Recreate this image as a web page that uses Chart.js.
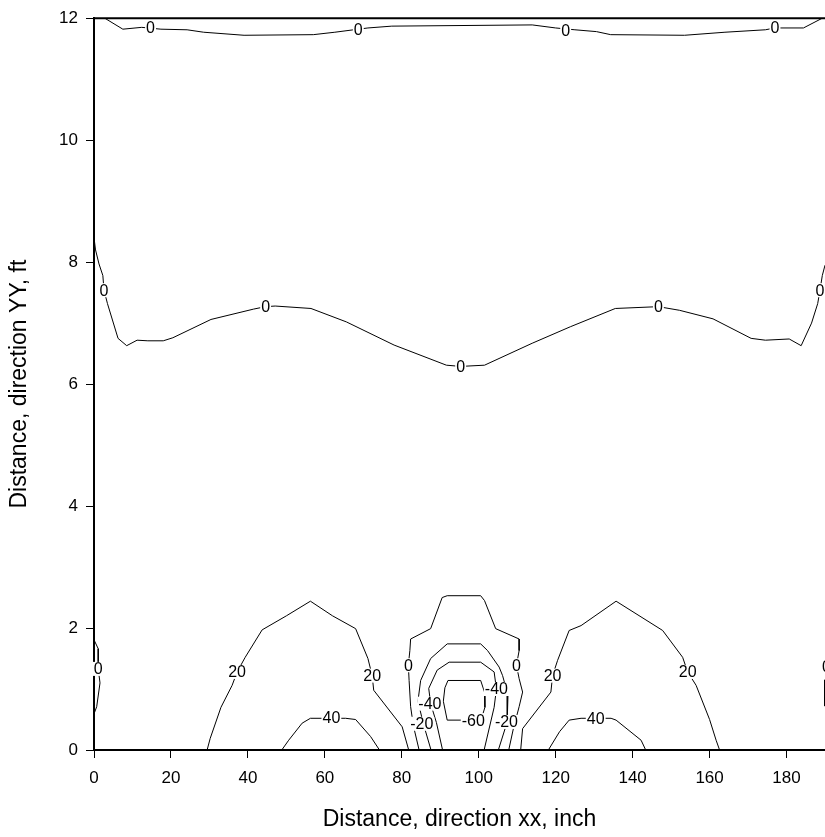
<!DOCTYPE html>
<html>
<head>
<meta charset="utf-8">
<script src="https://cdn.jsdelivr.net/npm/chart.js@4/dist/chart.umd.min.js"></script>
<style>
  html, body { margin: 0; padding: 0; background: #fff; }
</style>
</head>
<body>
<canvas id="contourChart" width="825" height="837"></canvas>
<script>
// Axis ticks
const xTickValues = [0, 20, 40, 60, 80, 100, 120, 140, 160, 180];
const yTickValues = [0, 2, 4, 6, 8, 10, 12];

// Contour lines, [x inch, y ft]
const topZero = [[2.8, 12], [7.5, 11.82], [12.4, 11.85], [17.4, 11.82], [24.2, 11.81], [28.5, 11.77], [39, 11.72],
  [57, 11.73], [62.6, 11.77], [68.7, 11.82], [71.2, 11.84], [77.4, 11.87], [113.9, 11.89], [120, 11.84],
  [125, 11.81], [130.6, 11.78], [134.3, 11.73], [153.5, 11.72], [164, 11.77], [174.5, 11.81], [177, 11.84],
  [184.4, 11.84], [189.3, 12]];
const midZero = [[0, 8.4], [0.4, 8.2], [1.3, 7.97], [2.3, 7.78], [2.6, 7.54], [3.5, 7.32], [6.25, 6.75], [8.5, 6.63],
  [11.2, 6.72], [14, 6.71], [18, 6.71], [20.5, 6.76], [30.4, 7.06], [41.5, 7.23], [44.6, 7.27], [47.1, 7.28],
  [56.4, 7.24], [65.6, 7.02], [78, 6.64], [91.6, 6.31], [95.3, 6.29], [101.5, 6.31], [113.9, 6.67], [123.8, 6.94],
  [135.5, 7.24], [146.7, 7.27], [152.2, 7.21], [160.9, 7.07], [170.8, 6.75], [174.5, 6.72], [180.7, 6.74],
  [183.8, 6.63], [186.5, 7.0], [188.1, 7.32], [188.7, 7.54], [189.3, 7.78], [190, 7.95]];
const leftEdgeZero = [[0, 2.17], [0.05, 1.8], [1.1, 1.66], [1.1, 1.52], [1.1, 1.33], [1.56, 1.1], [0.7, 0.71], [0.05, 0.6], [0, 0.44]];
const rightEdgeZero = [[189.9, 1.15], [189.9, 0.72]];
const leftArch20 = [[29.4, 0], [30.2, 0.19], [33, 0.7], [35.9, 1.06], [37.2, 1.28], [39.3, 1.52], [43.7, 1.97],
  [50, 2.2], [56.25, 2.44], [62, 2.2], [68, 1.99], [71.2, 1.5], [72.3, 1.22], [72.7, 0.98], [80.1, 0.38], [81.8, 0]];
const rightArch20 = [[110.9, 0], [111.4, 0.35], [118.75, 0.95], [119.2, 1.22], [120.5, 1.47], [123.5, 1.96],
  [126.6, 2.04], [135.7, 2.44], [147.8, 1.96], [153, 1.52], [154.3, 1.28], [156.5, 1.06], [160, 0.5], [161.7, 0.16], [162.6, 0]];
const leftArch40 = [[48.8, 0], [50.6, 0.16], [54.1, 0.44], [56.25, 0.52], [65.4, 0.52], [68, 0.5], [71.9, 0.22], [74.2, 0]];
const rightArch40 = [[118.1, 0], [121, 0.3], [123.5, 0.49], [126.6, 0.52], [134.4, 0.52], [135.7, 0.49], [142.2, 0.16], [143.4, 0]];
const centerZero = [[84.5, 0], [83, 0.4], [82.3, 0.71], [81.9, 1.14], [81.7, 1.39], [82.1, 1.63], [82.3, 1.82],
  [87.5, 1.99], [90.5, 2.5], [91.8, 2.53], [100.5, 2.53], [101.5, 2.45], [104.4, 1.99], [110.5, 1.82], [110.5, 1.63],
  [109.8, 1.39], [110.5, 1.17], [111.4, 0.95], [110.5, 0.71], [109, 0.35], [107.8, 0]];
const centerMinus20 = [[87.6, 0], [85.6, 0.43], [84.2, 0.8], [84.9, 1.14], [87.5, 1.5], [91.8, 1.74], [100.5, 1.74],
  [102.3, 1.63], [105.3, 1.36], [106.2, 1.22], [107.6, 0.9], [107.4, 0.46], [105.1, 0]];
const centerMinus40 = [[90.6, 0], [89, 0.45], [87.5, 0.76], [87, 1.01], [89.2, 1.31], [92.3, 1.44], [100.5, 1.44],
  [104, 1.28], [104.6, 1.0], [104, 0.7], [101.4, 0]];
const centerMinus60 = [[91.8, 0.49], [90.8, 0.8], [91.2, 1.02], [92, 1.14], [100.5, 1.14], [101.5, 0.95], [101.6, 0.7], [100.6, 0.49], [91.8, 0.49]];

const contours = [topZero, midZero, leftEdgeZero, rightEdgeZero, leftArch20, rightArch20, leftArch40, rightArch40,
  centerZero, centerMinus20, centerMinus40, centerMinus60];

// Contour labels
const labelX = [14.7, 68.7, 122.6, 177, 2.6, 44.6, 95.3, 146.7, 188.7, 1.1, 37.2, 72.3, 119.2, 154.3, 61.7, 130.4,
  81.7, 109.8, 87.3, 104.6, 85.2, 98.6, 107.2, 190.4];
const labelY = [11.84, 11.82, 11.80, 11.84, 7.54, 7.27, 6.29, 7.27, 7.54, 1.33, 1.28, 1.22, 1.22, 1.28, 0.53, 0.52,
  1.39, 1.39, 0.76, 1.0, 0.43, 0.49, 0.46, 1.36];
const labelText = ["0", "0", "0", "0", "0", "0", "0", "0", "0", "0", "20", "20", "20", "20", "40", "40",
  "0", "0", "-40", "-40", "-20", "-60", "-20", "0"];

const FONT = "'Liberation Sans', Arial, sans-serif";

// draws the contour value labels with a white gap behind them
const contourLabels = {
  id: "contourLabels",
  afterDatasetsDraw(chart) {
    const { ctx, scales } = chart;
    ctx.save();
    ctx.font = "16px " + FONT;
    ctx.textAlign = "center";
    ctx.textBaseline = "middle";
    labelText.forEach((t, i) => {
      const px = scales.x.getPixelForValue(labelX[i]);
      const py = scales.y.getPixelForValue(labelY[i]);
      const w = ctx.measureText(t).width;
      ctx.fillStyle = "#fff";
      ctx.fillRect(px - w / 2 - 1, py - 7, w + 2, 14);
      ctx.fillStyle = "#000";
      ctx.fillText(t, px, py + 1);
    });
    ctx.restore();
  }
};

// frame line along the top of the plot
const topFrame = {
  id: "topFrame",
  afterDraw(chart) {
    const { ctx, chartArea } = chart;
    ctx.save();
    ctx.strokeStyle = "#000";
    ctx.lineWidth = 2;
    ctx.beginPath();
    ctx.moveTo(chartArea.left, chartArea.top);
    ctx.lineTo(chartArea.right, chartArea.top);
    ctx.stroke();
    ctx.restore();
  }
};

new Chart(document.getElementById("contourChart"), {
  type: "scatter",
  data: {
    datasets: contours.map(c => ({
      data: c.map(p => ({ x: p[0], y: p[1] })),
      showLine: true,
      borderColor: "#000",
      borderWidth: 1,
      pointRadius: 0,
      tension: 0,
      fill: false
    }))
  },
  options: {
    responsive: false,
    animation: false,
    layout: { padding: { top: 15, right: 0, left: 0, bottom: 0 } },
    plugins: { legend: { display: false }, tooltip: { enabled: false } },
    scales: {
      x: {
        type: "linear", min: 0, max: 190,
        afterBuildTicks: s => { s.ticks = xTickValues.map(v => ({ value: v })); },
        afterFit: s => { s.height = 87; },
        ticks: { color: "#000", font: { family: FONT, size: 17 }, padding: 10, maxRotation: 0 },
        grid: { drawOnChartArea: false, tickLength: 8, color: "#000" },
        border: { color: "#000", width: 2 },
        title: { display: true, text: "Distance, direction xx, inch", color: "#000", font: { family: FONT, size: 23 }, padding: { top: 6 } }
      },
      y: {
        type: "linear", min: 0, max: 12,
        afterBuildTicks: s => { s.ticks = yTickValues.map(v => ({ value: v })); },
        afterFit: s => { s.width = 94; },
        ticks: { color: "#000", font: { family: FONT, size: 17 }, padding: 8 },
        grid: { drawOnChartArea: false, tickLength: 8, color: "#000" },
        border: { color: "#000", width: 2 },
        title: { display: true, text: "Distance, direction YY, ft", color: "#000", font: { family: FONT, size: 23 }, padding: { top: 6, bottom: 0 } }
      }
    }
  },
  plugins: [contourLabels, topFrame]
});
</script>
</body>
</html>
